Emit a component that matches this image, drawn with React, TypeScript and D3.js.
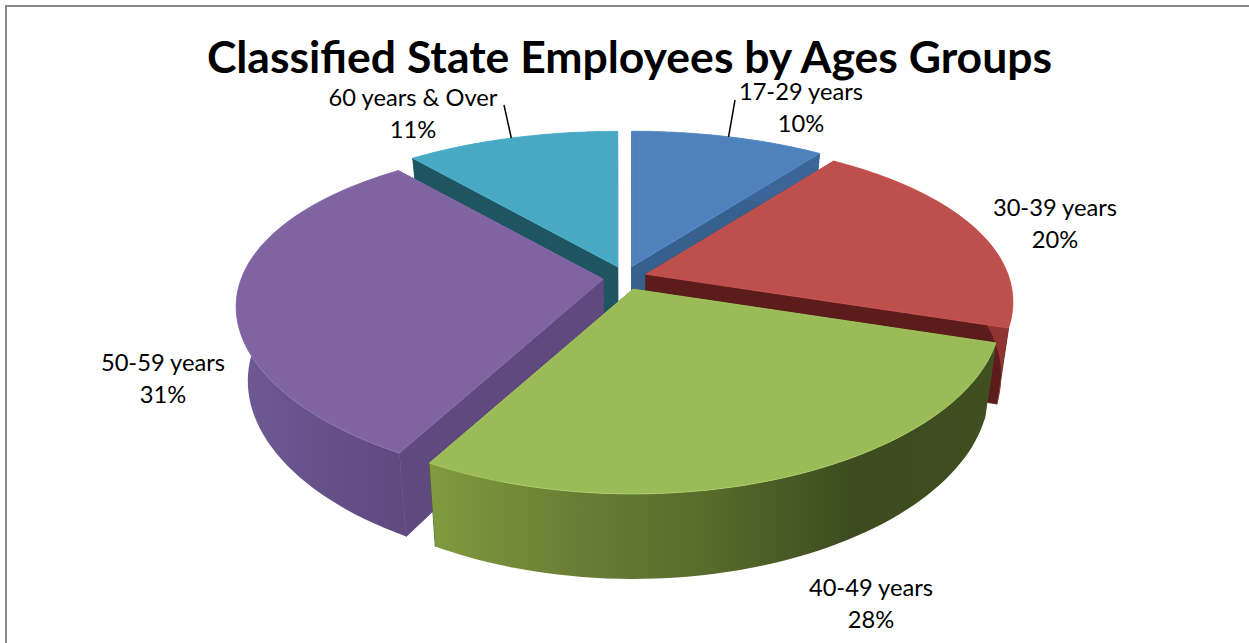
import React from "react";
import * as d3 from "d3";

const categories = ["17-29 years", "30-39 years", "40-49 years", "50-59 years", "60 years & Over"];
const percents = [10, 20, 28, 31, 11];
const topColors = ["#4f81bd", "#bd4f4c", "#9bbb59", "#8064a2", "#49a8c3"];
const edgeColors = ["#36618f", "#5c1c1b", "#4a5c25", "#5f497e", "#1f5561"];
const wallStops = [
  ["#3b6596", "#3b6596"],
  ["#8f3431", "#8f3431"],
  ["#7f9b3e", "#6a7f35", "#566a2b", "#3c4c1f", "#3f4f20"],
  ["#705a95", "#65508a", "#5f4a80"],
  ["#1f5561", "#1f5561"],
];
const paintOrder = [0, 4, 1, 3, 2];
const titleText = "Classified State Employees by Ages Groups";
const labelPos: [number, number][] = [[801, 100], [1055, 216], [871, 596], [163, 371], [413, 106]];
const leaderTargets: ([number, number] | null)[] = [[735, 100], null, null, null, [504, 105]];

const W = 1249, H = 643;
const cx = 625, cy = 278;
const explodeX = 22, explodeY = 12;
const Rx = 362, kx = 0.164, Ry = 163, ky = 0.204;

const pieGen = d3.pie<number>().sort(null).startAngle(0).endAngle(2 * Math.PI);
const arcs = pieGen(percents);

type P = [number, number];
const apexOf = (mid: number): P => [cx + explodeX * Math.sin(mid), cy - explodeY * Math.cos(mid)];
const rim = (a: P, t: number): P => {
  const u = Math.sin(t), v = -Math.cos(t);
  return [a[0] + (Rx * u) / (1 - kx * v), a[1] + (Ry * v) / (1 - ky * v)];
};
const down = (p: P, v: number): P => [cx + (p[0] - cx) * 0.97, p[1] + 72 + 13 * v];
const line = d3.line<P>().curve(d3.curveLinear);

export default function App() {
  const slices = arcs.map((d) => {
    const mid = (d.startAngle + d.endAngle) / 2;
    const a = apexOf(mid);
    const ts = d3.range(0, 61).map((i) => d.startAngle + ((d.endAngle - d.startAngle) * i) / 60);
    const top = ts.map((t) => rim(a, t));
    const bottom = ts.map((t) => down(rim(a, t), -Math.cos(t)));
    const aDown = down(a, 0);
    return { d, mid, a, ts, top, bottom, aDown };
  });
  return (
    <svg width={W} height={H} viewBox={`0 0 ${W} ${H}`} style={{ position: "absolute", left: 0, top: 0, display: "block", background: "#fff" }}>
      <defs>
        {slices.map((s, i) => {
          const xs = [...s.top, ...s.bottom].map((p) => p[0]);
          const stops = wallStops[i];
          const off = d3.scaleLinear().domain([0, stops.length - 1]).range([0, 100]);
          return (
            <linearGradient key={i} id={`wall${i}`} gradientUnits="userSpaceOnUse" x1={d3.min(xs)} x2={d3.max(xs)} y1={0} y2={0}>
              {stops.map((c, j) => <stop key={j} offset={`${off(j)}%`} stopColor={c} />)}
            </linearGradient>
          );
        })}
      </defs>
      <path d={`M6,${H}V6H${W}`} fill="none" stroke="#888888" strokeWidth={2} />
      <text x={629.5} y={73} textAnchor="middle" fontFamily="Lato, 'Open Sans', sans-serif" fontWeight={700} fontSize={44.5} fill="#000">{titleText}</text>

      {paintOrder.map((i) => {
        const s = slices[i];
        const n = s.top.length - 1;
        const wallA: P[] = [s.a, s.top[0], s.bottom[0], s.aDown];
        const wallB: P[] = [s.a, s.top[n], s.bottom[n], s.aDown];
        const outer: P[] = [...s.top, ...[...s.bottom].reverse()];
        const face: P[] = [s.a, ...s.top];
        return (
          <g key={i}>
            <path d={line(wallA) + "Z"} fill={edgeColors[i]} stroke={edgeColors[i]} strokeWidth={0.8} />
            <path d={line(wallB) + "Z"} fill={edgeColors[i]} stroke={edgeColors[i]} strokeWidth={0.8} />
            <path d={line(outer) + "Z"} fill={`url(#wall${i})`} />
            <path d={line(face) + "Z"} fill={topColors[i]} stroke={d3.color(topColors[i])!.brighter(0.3).formatHex()} strokeWidth={0.8} strokeLinejoin="round" />
          </g>
        );
      })}

      {slices.map((s, i) => {
        const target = leaderTargets[i];
        if (!target) return null;
        const p = rim(s.a, s.mid);
        return <line key={i} x1={p[0]} y1={p[1]} x2={target[0]} y2={target[1]} stroke="#000" strokeWidth={1.5} />;
      })}

      {categories.map((c, i) => (
        <g key={c} fontFamily="Lato, 'Open Sans', sans-serif" fontSize={23.7} fill="#000" textAnchor="middle">
          <text x={labelPos[i][0]} y={labelPos[i][1]}>{c}</text>
          <text x={labelPos[i][0]} y={labelPos[i][1] + 32}>{percents[i]}%</text>
        </g>
      ))}
    </svg>
  );
}
